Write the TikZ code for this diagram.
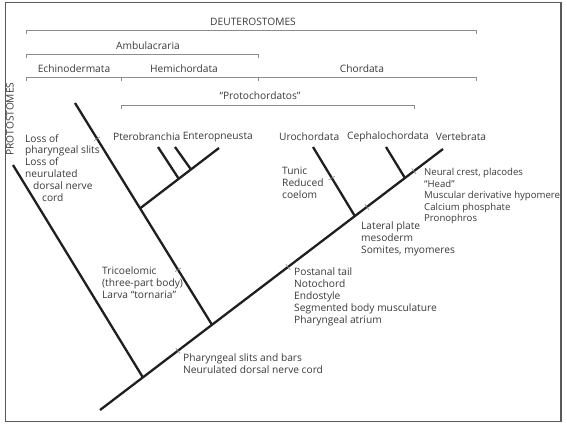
\documentclass[tikz,border=0pt]{standalone}
\usepackage{fontspec}
\setmainfont{Open Sans}
\usetikzlibrary{calc}
\definecolor{inkgray}{HTML}{3A3A3A}
\definecolor{rulegray}{HTML}{8C8C8C}
\begin{document}
\begin{tikzpicture}[x=1pt, y=-1pt,
  branch/.style = {draw=black!88, line width=2.3pt},
  bracket/.style = {draw=rulegray, line width=0.8pt},
  chartick/.style = {shape=rectangle, sloped, draw=rulegray, line width=0.6pt,
    minimum width=0pt, minimum height=7pt, inner sep=0pt},
  taxon/.style = {text=inkgray, inner sep=0pt, font=\fontsize{10.2}{11.8}\selectfont},
  trait/.style = {taxon, align=left, anchor=north west}]
  \useasboundingbox (0,0) rectangle (567,424);
  \node[taxon] (deut) at (253,22) {DEUTEROSTOMES};
  \draw[bracket] (26,34) |- (476,30) -- (476,34);
  \node[taxon] (amb) at (148,46) {Ambulacraria};
  \draw[bracket] (26,58) |- (258,54) -- (258,58);
  \node[taxon] (echi) at (74,69) {Echinodermata};
  \node[taxon] (hemi) at (184,69) {Hemichordata};
  \node[taxon] (chor) at (362,69) {Chordata};
  \draw[bracket] (26,81) |- (476,77) -- (476,81);
  \draw[bracket] (121,77) -- (121,81) (258,77) -- (258,81);
  \node[taxon] (protoch) at (260,96) {``Protochordatos''};
  \draw[bracket] (121,109) |- (414,105) -- (414,109);
  \node[taxon, rotate=90] (prot) at (10,119) {PROTOSTOMES};

  \coordinate (root) at (100,410);
  \coordinate (vert) at (443,149);
  \coordinate (protip) at (13,165);
  \coordinate (echtip) at (75,103);
  \coordinate (enttip) at (219,148);
  \coordinate (pt1) at (158,147);
  \coordinate (pt2) at (175,147);
  \coordinate (urotip) at (313,147);
  \coordinate (ceptip) at (386,147);
  \coordinate (j1) at ($(root)!0.125!(vert)$);
  \coordinate (j2) at ($(root)!0.3265!(vert)$);
  \coordinate (j3) at ($(root)!0.743!(vert)$);
  \coordinate (j4) at ($(root)!0.889!(vert)$);
  \coordinate (hj) at ($(echtip)!0.475!(j2)$);
  \coordinate (hj1) at ($(hj)!0.49!(enttip)$);
  \coordinate (hj2) at ($(hj)!0.645!(enttip)$);

  \draw[branch] (root) -- (vert);
  \draw[branch] (j1) -- (protip);
  \draw[branch] (j2) -- (echtip);
  \draw[branch] (hj) -- (enttip);
  \draw[branch] (hj1) -- (pt1);
  \draw[branch] (hj2) -- (pt2);
  \draw[branch] (j3) -- (urotip);
  \draw[branch] (j4) -- (ceptip);

  \path (root) -- (vert) node[chartick, pos=0.227] {} node[chartick, pos=0.548] {}
    node[chartick, pos=0.778] {} node[chartick, pos=0.915] {};
  \path (j2) -- (echtip) node[chartick, pos=0.248] {} node[chartick, pos=0.839] {};
  \path (j3) -- (urotip) node[chartick, pos=0.55] {};

  \node[taxon, anchor=west] (ptero) at (113,137) {Pterobranchia};
  \node[taxon, anchor=east] (entero) at (253,137) {Enteropneusta};
  \node[taxon, anchor=west] (uro) at (279,137) {Urochordata};
  \node[taxon, anchor=west] (ceph) at (347,137) {Cephalochordata};
  \node[taxon] (vertb) at (461,137) {Vertebrata};

  \node[trait] (lossps) at (25,134) {Loss of\\pharyngeal slits\\Loss of\\neurulated\\
    \hspace*{8pt}dorsal nerve\\\hspace*{17pt}cord};
  \node[trait] (tricoel) at (102,267) {Tricoelomic\\(three-part body)\\Larva ``tornaria''};
  \node[trait] (pharsl) at (183,354) {Pharyngeal slits and bars\\Neurulated dorsal nerve cord};
  \node[trait] (postan) at (294,268) {Postanal tail\\Notochord\\Endostyle\\
    Segmented body musculature\\Pharyngeal atrium};
  \node[trait] (tunic) at (282,167) {Tunic\\Reduced\\coelom};
  \node[trait] (latpl) at (361,222) {Lateral plate\\mesoderm\\Somites, myomeres};
  \node[trait, font=\fontsize{9.6}{11.6}\selectfont] (neural) at (424,168)
    {Neural crest, placodes\\``Head''\\Muscular derivative hypomere\\Calcium phosphate\\Pronophros};
  \draw[draw=black!65, line width=1.2pt] (5.5,2.5) rectangle (561,421.5);
\end{tikzpicture}
\end{document}
